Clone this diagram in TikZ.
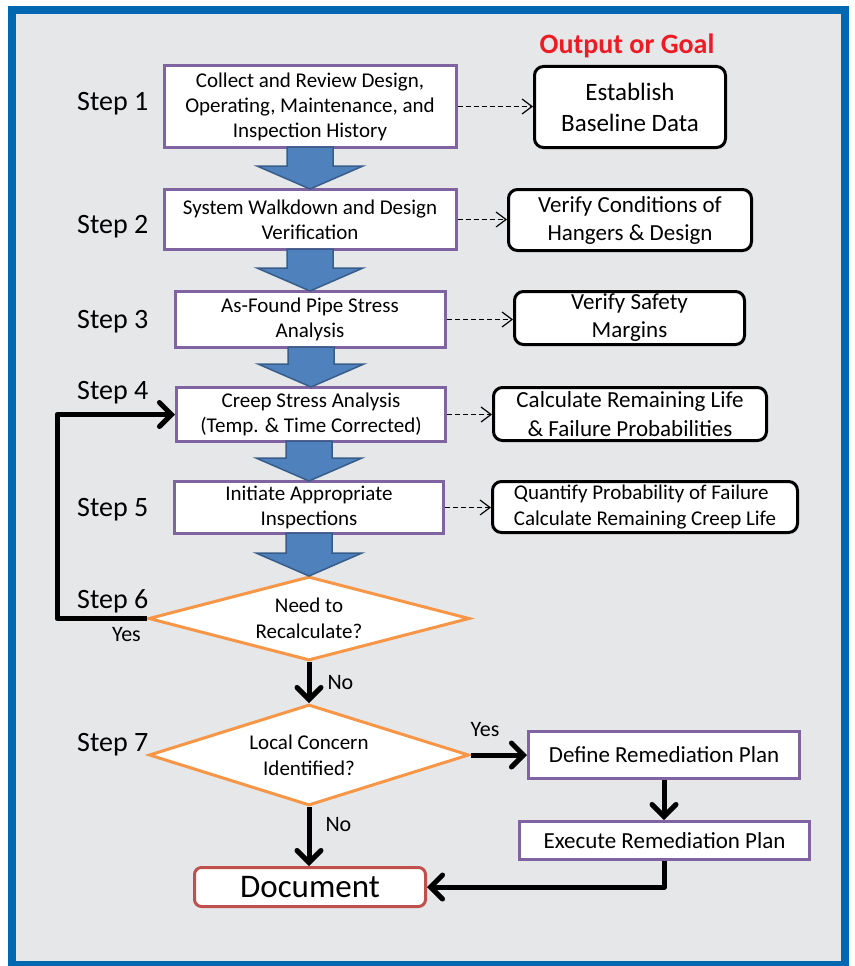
\documentclass[tikz,border=0pt]{standalone}
\usepackage{fontspec}
\setmainfont{Carlito}
\usetikzlibrary{calc,positioning,arrows.meta,shapes.geometric}
\definecolor{frameblue}{RGB}{0,103,177}
\definecolor{panelgray}{RGB}{230,231,233}
\definecolor{boxpurple}{RGB}{128,100,162}
\definecolor{decorange}{RGB}{247,150,70}
\definecolor{docred}{RGB}{192,80,77}
\definecolor{arrowfill}{RGB}{79,129,189}
\definecolor{arrowline}{RGB}{56,93,138}
\definecolor{goalred}{RGB}{237,28,36}
\tikzstyle{stepbox}=[draw=boxpurple,line width=3pt,fill=white,align=center,inner sep=0,font=\fontsize{21}{25}\selectfont]
\tikzstyle{goalbox}=[draw=black,line width=3pt,fill=white,rounded corners=9pt,align=center,inner sep=0]
\tikzstyle{decision}=[diamond,draw=decorange,line width=3pt,fill=white,align=center,inner sep=0,font=\fontsize{21}{26}\selectfont]
\tikzstyle{steplabel}=[anchor=base west,inner sep=0,font=\fontsize{28}{30}\selectfont]
\tikzstyle{answer}=[inner sep=0,font=\fontsize{22}{24}\selectfont]
\tikzstyle{flow}=[line width=5pt,line join=round,-{Straight Barb[length=12pt,width=24pt,line cap=round]}]
\tikzstyle{feed}=[line width=1.2pt,dash pattern=on 5pt off 3pt,-{Straight Barb[length=10pt,width=15pt]}]
\tikzstyle{block}=[fill=arrowfill,draw=arrowline,line width=1.5pt]

\begin{document}
\begin{tikzpicture}[x=1pt,y=-1pt,
    planbox/.style={stepbox,font=\fontsize{23}{26}\selectfont},
    docbox/.style={stepbox,draw=docred,rounded corners=7pt,font=\fontsize{33}{36}\selectfont}
    ]
    \useasboundingbox (0,0) rectangle (854,966);
    \draw [frameblue,line width=8pt,fill=panelgray] (12,10) rectangle (845,965);

    % main steps
    \node [stepbox,minimum width=292,minimum height=82] (s1) at (310,106.5)
      {Collect and Review Design,\\Operating, Maintenance, and\\Inspection History};
    \node [stepbox,minimum width=292,minimum height=60] (s2) at (310,219.5)
      {System Walkdown and Design\\Verification};
    \node [stepbox,minimum width=270,minimum height=56] (s3) at (310,319.5)
      {As-Found Pipe Stress\\Analysis};
    \node [stepbox,minimum width=269,minimum height=54] (s4) at (311,414.5)
      {Creep Stress Analysis\\(Temp. \& Time Corrected)};
    \node [stepbox,minimum width=269,minimum height=52] (s5) at (309,507.5)
      {Initiate Appropriate\\Inspections};
    \node [decision,aspect=3.7,minimum width=321,minimum height=84] (d6) at (309,618.5)
      {Need to\\Recalculate?};
    \node [decision,aspect=3.1,minimum width=320,minimum height=101] (d7) at (309,755)
      {Local Concern\\Identified?};
    \node [docbox,minimum width=231,minimum height=39] (doc) at (310,887) {Document};
    \node [planbox,minimum width=271,minimum height=47] (def) at (664,755) {Define Remediation Plan};
    \node [planbox,minimum width=290,minimum height=38] (exe) at (664.5,840.5) {Execute Remediation Plan};

    % outputs
    \node [font=\bfseries\fontsize{28}{30}\selectfont,text=goalred,anchor=base] (goal) at (627,53) {Output or Goal};
    \node [goalbox,minimum width=191,minimum height=81,font=\fontsize{25}{31}\selectfont] (o1) at (630,107)
      {Establish\\Baseline Data};
    \node [goalbox,minimum width=243,minimum height=61,font=\fontsize{23}{28}\selectfont] (o2) at (630,220)
      {Verify Conditions of\\Hangers \& Design};
    \node [goalbox,minimum width=230,minimum height=53,font=\fontsize{23}{28}\selectfont] (o3) at (629.5,318)
      {Verify Safety\\Margins};
    \node [goalbox,minimum width=273,minimum height=53,font=\fontsize{23}{29}\selectfont] (o4) at (630,414)
      {Calculate Remaining Life\\\& Failure Probabilities};
    \node [goalbox,minimum width=305,minimum height=51,align=left,font=\fontsize{21}{26}\selectfont] (o5) at (645,507)
      {Quantify Probability of Failure\\Calculate Remaining Creep Life};

    % step labels
    \foreach \n/\y in {1/110.7,2/233,3/328,4/399,5/516,6/608,7/751}
      \node [steplabel] (lbl\n) at (77,\y) {Step \n};

    % dashed links to outputs
    \foreach \s/\o in {s1/o1,s2/o2,s3/o3,s4/o4,s5/o5}
      \draw [feed] (\s.east) -- (\s.east -| \o.west);

    % block arrows between steps
    \foreach \a/\b in {s1/s2,s2/s3,s3/s4,s4/s5,s5/d6} {
      \draw [block] ($(\b.north |- \a.south)+(-23,-2)$) -- ($(\b.north)+(-23,-22)$)
        -- ($(\b.north)+(-53,-22)$) -- ($(\b.north)+(0,1)$) -- ($(\b.north)+(53,-22)$)
        -- ($(\b.north)+(23,-22)$) -- ($(\b.north |- \a.south)+(23,-2)$) -- cycle;
    }

    % decisions
    \draw [flow] (d6.west) -- ++(-90,0) |- (s4.west);
    \node [answer,anchor=base east] (yes6) at ($(d6.west)+(-6,23)$) {Yes};
    \draw [flow] (d6.south) -- (d7.north) node [answer,midway,anchor=west,xshift=16pt] (no6) {No};
    \draw [flow] (d7.south) -- (d7.south |- doc.north)
      node [answer,pos=0.3,anchor=west,xshift=14pt] (no7) {No};
    \draw [flow] (d7.east) -- (def.west);
    \node [answer,anchor=base west] (yes7) at ($(d7.east)+(0,-19)$) {Yes};
    \draw [flow] (def.south) -- (def.south |- exe.north);
    \draw [flow] (exe.south) |- (doc.east);
  \end{tikzpicture}
\end{document}
